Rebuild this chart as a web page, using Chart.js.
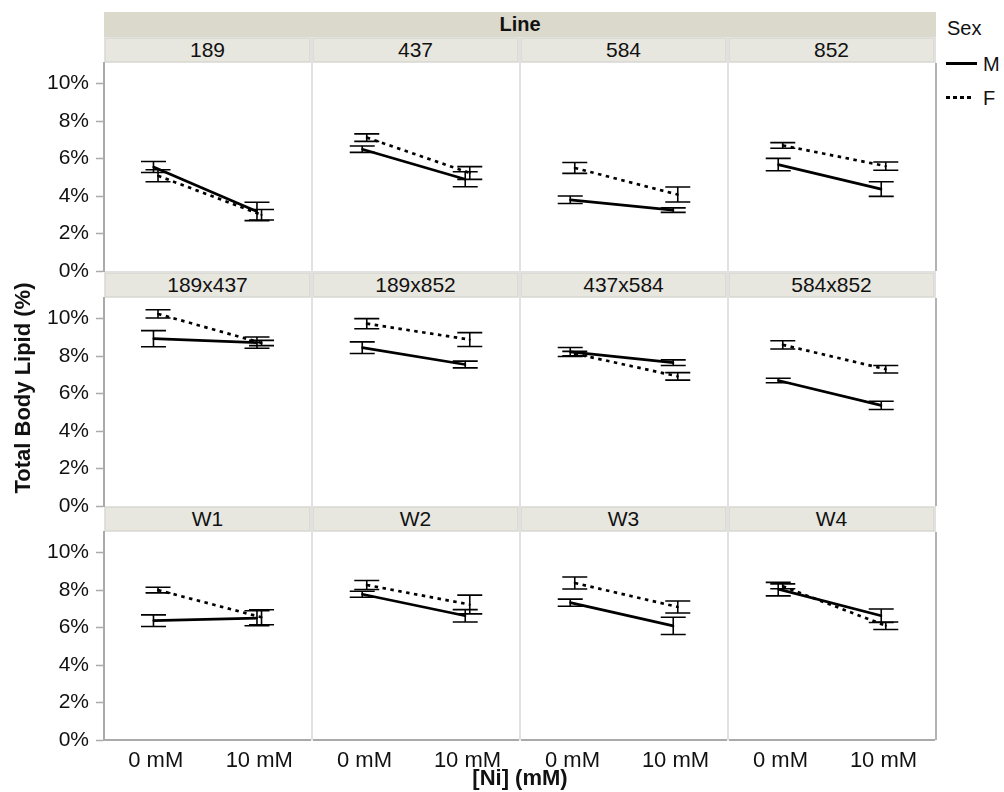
<!DOCTYPE html>
<html>
<head>
<meta charset="utf-8">
<script src="https://cdn.jsdelivr.net/npm/chart.js@4.4.1/dist/chart.umd.min.js"></script>
<style>
  body { margin: 0; background: #fff; font-family: "Liberation Sans", Arial, sans-serif; }
  #fig { position: relative; width: 1004px; height: 792px; overflow: hidden; background: #fff; }
  .box { position: absolute; box-sizing: border-box; }
  .strip { position: absolute; box-sizing: border-box; background: #e8e7df; border: 1px solid #dcdbd0;
           text-align: center; font-size: 21px; line-height: 22px; color: #111; }
  .txt { position: absolute; color: #111; white-space: nowrap; }
  canvas { position: absolute; }
</style>
</head>
<body>
<div id="fig"></div>
<script>
// panels (Line) and dose categories
const lines = ['189', '437', '584', '852', '189x437', '189x852', '437x584', '584x852', 'W1', 'W2', 'W3', 'W4'];
const doses = ['0 mM', '10 mM'];
const yTicks = [0, 2, 4, 6, 8, 10];

// total body lipid (%), [0 mM, 10 mM] per line
const maleMean   = [[5.55, 3.18], [6.5, 4.9], [3.8, 3.25], [5.68, 4.37], [8.93, 8.72], [8.45, 7.55],
                    [8.22, 7.65], [6.7, 5.37], [6.37, 6.5], [7.78, 6.63], [7.33, 6.09], [8.05, 6.63]];
const maleSE     = [[0.29, 0.49], [0.17, 0.4], [0.2, 0.12], [0.33, 0.39], [0.43, 0.3], [0.31, 0.18],
                    [0.24, 0.15], [0.12, 0.22], [0.31, 0.4], [0.16, 0.33], [0.19, 0.46], [0.36, 0.36]];
const femaleMean = [[5.08, 3.0], [7.12, 5.23], [5.5, 4.08], [6.7, 5.6], [10.25, 8.7], [9.73, 8.88],
                    [8.13, 6.92], [8.6, 7.3], [8.0, 6.55], [8.27, 7.23], [8.38, 7.1], [8.2, 6.1]];
const femaleSE   = [[0.32, 0.28], [0.2, 0.34], [0.29, 0.4], [0.15, 0.22], [0.22, 0.14], [0.27, 0.37],
                    [0.12, 0.2], [0.22, 0.2], [0.15, 0.4], [0.24, 0.5], [0.32, 0.32], [0.13, 0.2]];

const fig = document.getElementById('fig');
const plotLeft = 104, panelW = 208, plotH = 208, stripH = 24;
const stripTops = [38, 273, 507];
const yMax = 11.1;
const dodge = 0.022;

function add(cls, css, text) {
  const d = document.createElement('div');
  d.className = cls;
  Object.assign(d.style, css);
  if (text) d.textContent = text;
  fig.appendChild(d);
  return d;
}

// panel frame background (separators) and top strip
add('box', { left: '104px', top: '37px', width: '832px', height: '703px', background: '#e1e1e1' });
add('box', { left: '104px', top: '12px', width: '832px', height: '25px', background: '#dbd9cb',
  textAlign: 'center', fontWeight: 'bold', fontSize: '20px', lineHeight: '25px', color: '#111' }, 'Line');

// white chart area + error bars
const errorBars = {
  id: 'errorBars',
  beforeDraw(chart) {
    const a = chart.chartArea, ctx = chart.ctx;
    ctx.save();
    ctx.fillStyle = '#fff';
    ctx.fillRect(a.left, a.top, a.right - a.left, a.bottom - a.top);
    ctx.restore();
  },
  afterDatasetsDraw(chart) {
    const ctx = chart.ctx, y = chart.scales.y;
    chart.data.datasets.forEach((ds, di) => {
      chart.getDatasetMeta(di).data.forEach((pt, k) => {
        const m = ds.data[k].y, e = ds.errors[k];
        const top = y.getPixelForValue(m + e), bot = y.getPixelForValue(m - e);
        ctx.save();
        ctx.strokeStyle = '#000';
        ctx.lineWidth = 1.6;
        ctx.beginPath();
        ctx.moveTo(pt.x, top); ctx.lineTo(pt.x, bot);
        ctx.moveTo(pt.x - 12.5, top); ctx.lineTo(pt.x + 12.5, top);
        ctx.moveTo(pt.x - 12.5, bot); ctx.lineTo(pt.x + 12.5, bot);
        ctx.stroke();
        ctx.restore();
      });
    });
  }
};

lines.forEach((name, i) => {
  const r = Math.floor(i / 4), c = i % 4;
  const isLeft = c === 0, isBottom = r === 2;
  const plotX = plotLeft + c * panelW;
  const areaLeft = plotX + (isLeft ? 0 : 1);
  const areaW = isLeft ? 207 : 206;
  const areaTop = stripTops[r] + stripH + 1;

  add('strip', { left: (plotX + 1) + 'px', top: stripTops[r] + 'px', width: '205px', height: stripH + 'px' }, name);

  // room for the half-height of the first/last y tick labels
  const padTop = isLeft ? 24 : 0;
  const padBottom = isLeft && !isBottom ? 24 : 0;
  const xAxisH = isBottom ? 52 : 0;

  const canvas = document.createElement('canvas');
  const cw = isLeft ? plotLeft + areaW : areaW;
  const ch = padTop + plotH + padBottom + xAxisH;
  canvas.width = cw; canvas.height = ch;
  canvas.style.left = (isLeft ? 0 : areaLeft) + 'px';
  canvas.style.top = (areaTop - padTop) + 'px';
  canvas.style.width = cw + 'px'; canvas.style.height = ch + 'px';
  fig.appendChild(canvas);

  new Chart(canvas, {
    type: 'line',
    data: {
      datasets: [
        {
          label: 'M',
          data: maleMean[i].map((v, k) => ({ x: k - dodge, y: v })),
          errors: maleSE[i],
          borderColor: '#000',
          backgroundColor: '#000',
          borderWidth: 2.7,
          pointRadius: 1.3,
          pointBorderWidth: 0,
          pointStyle: 'rect',
          tension: 0
        },
        {
          label: 'F',
          data: femaleMean[i].map((v, k) => ({ x: k + dodge, y: v })),
          errors: femaleSE[i],
          borderColor: '#000',
          backgroundColor: '#000',
          borderWidth: 2.7,
          borderDash: [3.5, 4.5],
          pointRadius: 1.3,
          pointBorderWidth: 0,
          pointStyle: 'rect',
          tension: 0
        }
      ]
    },
    options: {
      responsive: false,
      animation: false,
      devicePixelRatio: 1,
      layout: { autoPadding: false, padding: { top: padTop, bottom: padBottom, left: 0, right: 0 } },
      plugins: { legend: { display: false }, tooltip: { enabled: false } },
      scales: {
        x: {
          type: 'linear',
          min: -0.5,
          max: 1.5,
          display: isBottom,
          afterBuildTicks: s => { s.ticks = doses.map((d, k) => ({ value: k })); },
          afterFit: s => { if (isBottom) s.height = xAxisH; },
          grid: { display: true, drawOnChartArea: false, drawTicks: false },
          border: { display: true, color: '#aaa', width: 2 },
          ticks: {
            callback: v => doses[v],
            autoSkip: false,
            maxRotation: 0,
            padding: 8,
            color: '#111',
            font: { family: 'Liberation Sans', size: 22 }
          }
        },
        y: {
          min: 0,
          max: yMax,
          display: isLeft,
          afterBuildTicks: s => { s.ticks = yTicks.map(v => ({ value: v })); },
          afterFit: s => { if (isLeft) s.width = plotLeft; },
          grid: { display: true, drawOnChartArea: false, drawTicks: true, tickLength: 8, color: '#aaa', tickWidth: 1.5 },
          border: { display: true, color: '#aaa', width: 2 },
          ticks: {
            callback: v => v + '%',
            autoSkip: false,
            padding: 7,
            color: '#111',
            font: { family: 'Liberation Sans', size: 21 }
          }
        }
      }
    },
    plugins: [errorBars]
  });

  if (c === 3) {
    add('box', { left: '935px', top: areaTop + 'px', width: '1.5px', height: plotH + 'px', background: '#b3b3b3' });
  }
});

// axis titles
add('txt', { left: (23 - 150) + 'px', top: (388 - 13) + 'px', width: '300px', height: '26px', lineHeight: '26px',
  textAlign: 'center', fontWeight: 'bold', fontSize: '22px', transform: 'rotate(-90deg)' }, 'Total Body Lipid (%)');
add('txt', { left: '420px', top: '766px', width: '200px', lineHeight: '24px', textAlign: 'center',
  fontWeight: 'bold', fontSize: '22px' }, '[Ni] (mM)');

// legend
add('txt', { left: '947px', top: '16px', fontSize: '20px', lineHeight: '24px' }, 'Sex');
add('box', { left: '946px', top: '62px', width: '31px', height: '3px', background: '#000' });
add('txt', { left: '983px', top: '52px', fontSize: '20px', lineHeight: '24px' }, 'M');
add('box', { left: '946px', top: '96px', width: '27px', height: '3px',
  background: 'repeating-linear-gradient(90deg, #000 0 4px, transparent 4px 7px)' });
add('txt', { left: '983px', top: '86px', fontSize: '20px', lineHeight: '24px' }, 'F');
</script>
</body>
</html>
